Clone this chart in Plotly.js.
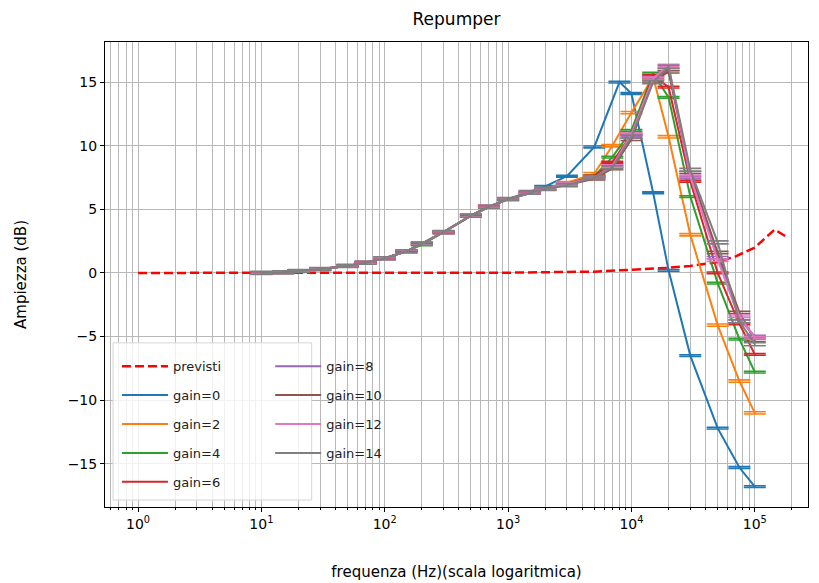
<!DOCTYPE html>
<html>
<head>
<meta charset="utf-8">
<script src="https://cdn.plot.ly/plotly-3.0.1.min.js"></script>
<style>html,body{margin:0;padding:0;background:#fff;}#chart{width:819px;height:583px;}</style>
</head>
<body>
<div id="chart"></div>
<script>
// Frequencies (Hz)
var freqPrev = [1, 10, 100, 1000, 5000, 10000, 20000, 30000, 50000, 70000, 100000, 145000, 180000];
var valPrev  = [0, 0, 0, 0.02, 0.1, 0.25, 0.4, 0.55, 0.85, 1.3, 2.0, 3.4, 2.85];

var freqG0 = [10, 15, 20, 30, 50, 70, 100, 150, 200, 300, 500, 700, 1000, 1500, 2000, 3000, 5000, 8000, 10000, 15000, 20000, 30000, 50000, 75000, 100000];
var freqG  = [10, 15, 20, 30, 50, 70, 100, 150, 200, 300, 500, 700, 1000, 1500, 2000, 3000, 5000, 7000, 10000, 15000, 20000, 30000, 50000, 75000, 100000];

var gain0  = [0.0, 0.05, 0.15, 0.3, 0.55, 0.8, 1.15, 1.7, 2.3, 3.2, 4.5, 5.2, 5.8, 6.4, 6.8, 7.6, 9.9, 15.0, 14.1, 6.3, 0.2, -6.5, -12.2, -15.3, -16.8];
var gain2  = [0.0, 0.05, 0.15, 0.3, 0.55, 0.8, 1.15, 1.7, 2.3, 3.2, 4.5, 5.2, 5.8, 6.3, 6.6, 7.1, 7.8, 10.0, 12.6, 15.4, 10.7, 3.0, -4.1, -8.5, -11.0];
var gain4  = [0.0, 0.05, 0.15, 0.3, 0.55, 0.8, 1.15, 1.7, 2.2, 3.2, 4.5, 5.2, 5.8, 6.3, 6.6, 7.0, 7.6, 9.1, 11.2, 15.7, 13.8, 6.0, -0.8, -5.2, -7.8];
var gain6  = [0.0, 0.05, 0.15, 0.3, 0.55, 0.8, 1.15, 1.7, 2.3, 3.2, 4.5, 5.2, 5.8, 6.3, 6.6, 7.0, 7.6, 8.7, 10.9, 15.5, 14.6, 7.2, 0.0, -4.0, -6.4];
var gain8  = [0.0, 0.05, 0.15, 0.3, 0.55, 0.8, 1.15, 1.7, 2.3, 3.2, 4.5, 5.2, 5.8, 6.3, 6.6, 7.0, 7.5, 8.4, 10.8, 15.3, 16.0, 7.5, 1.2, -3.6, -5.0];
var gain10 = [0.0, 0.05, 0.15, 0.3, 0.55, 0.8, 1.15, 1.7, 2.3, 3.2, 4.5, 5.2, 5.8, 6.3, 6.6, 6.9, 7.4, 8.2, 10.5, 15.1, 15.8, 7.9, 1.6, -3.1, -5.3];
var gain12 = [0.0, 0.05, 0.15, 0.3, 0.55, 0.8, 1.15, 1.7, 2.3, 3.2, 4.5, 5.2, 5.8, 6.3, 6.6, 7.0, 7.5, 8.4, 10.9, 15.3, 16.3, 7.6, 1.0, -3.4, -5.1];
var gain14 = [0.0, 0.05, 0.15, 0.3, 0.55, 0.8, 1.15, 1.7, 2.3, 3.2, 4.5, 5.2, 5.8, 6.3, 6.6, 6.9, 7.5, 8.3, 10.7, 15.0, 16.2, 8.1, 2.4, -3.8, -5.6];

// error (dB), one per series
var errs = [0.07, 0.09, 0.07, 0.07, 0.09, 0.09, 0.09, 0.12];

var seriesNames = ['gain=0', 'gain=2', 'gain=4', 'gain=6', 'gain=8', 'gain=10', 'gain=12', 'gain=14'];
var seriesVals = [gain0, gain2, gain4, gain6, gain8, gain10, gain12, gain14];
var seriesFreq = [freqG0, freqG, freqG, freqG, freqG, freqG, freqG, freqG];
var colors = ['#1f77b4', '#ff7f0e', '#2ca02c', '#d62728', '#9467bd', '#8c564b', '#e377c2', '#7f7f7f'];

var xTickVals = [1, 10, 100, 1000, 10000, 100000];
var xTickText = ['10<sup>0</sup>', '10<sup>1</sup>', '10<sup>2</sup>', '10<sup>3</sup>', '10<sup>4</sup>', '10<sup>5</sup>'];
var yTickVals = [-15, -10, -5, 0, 5, 10, 15];

var minorVals = [];
for (var d = 0; d <= 5; d++) {
  for (var m = 2; m <= 9; m++) minorVals.push(m * Math.pow(10, d - 1));
}
for (var m2 = 2; m2 <= 9; m2++) minorVals.push(m2 * 1e5);

var traces = [{
  x: freqPrev, y: valPrev, name: 'previsti', mode: 'lines',
  line: {color: '#ff0000', width: 2.5, dash: '9px,4px'},
  legend: 'legend', legendgroup: 'p', legendrank: 1
}];
for (var i = 0; i < seriesNames.length; i++) {
  traces.push({
    x: seriesFreq[i], y: seriesVals[i], name: seriesNames[i], mode: 'lines',
    line: {color: colors[i], width: 2},
    error_y: {type: 'constant', value: errs[i], width: 11, thickness: 1.6, color: colors[i]},
    legend: i < 4 ? 'legend' : 'legend2',
    legendgroup: 'g' + i, legendrank: i + 2
  });
}

var legendCommon = {
  font: {family: 'DejaVu Sans', size: 13, color: '#222'},
  bgcolor: 'rgba(0,0,0,0)', borderwidth: 0,
  xanchor: 'left', yanchor: 'top', yref: 'paper', xref: 'paper',
  tracegroupgap: 9, itemwidth: 46, traceorder: 'grouped'
};

var layout = {
  width: 819, height: 583,
  margin: {l: 105, r: 11, t: 42, b: 76},
  paper_bgcolor: '#fff', plot_bgcolor: '#fff',
  font: {family: 'DejaVu Sans', color: '#000'},
  title: {text: 'Repumper', x: 0.5, xref: 'paper', xanchor: 'center', y: 0.978, yanchor: 'top', font: {size: 17, color: '#000'}},
  showlegend: true,
  xaxis: {
    type: 'log', range: [Math.log10(0.54), Math.log10(270000)],
    tickmode: 'array', tickvals: xTickVals, ticktext: xTickText,
    tickfont: {size: 14}, ticks: 'outside', ticklen: 4, tickcolor: '#000',
    showgrid: true, gridcolor: '#b8b8b8', gridwidth: 1,
    showline: true, linecolor: '#000', linewidth: 1, mirror: true, zeroline: false,
    minor: {tickmode: 'array', tickvals: minorVals, showgrid: true, gridcolor: '#b8b8b8', gridwidth: 1, ticks: 'outside', ticklen: 2, tickcolor: '#000'},
    title: {text: 'frequenza (Hz)(scala logaritmica)', font: {size: 15}, standoff: 35}
  },
  yaxis: {
    range: [-18.4, 18.15], tickmode: 'array', tickvals: yTickVals,
    tickfont: {size: 14}, ticks: 'outside', ticklen: 4, tickcolor: '#000',
    showgrid: true, gridcolor: '#b8b8b8', gridwidth: 1,
    showline: true, linecolor: '#000', linewidth: 1, mirror: true, zeroline: false,
    title: {text: 'Ampiezza (dB)', font: {size: 15}, standoff: 37}
  },
  legend: Object.assign({}, legendCommon, {x: 0.017, y: 0.335}),
  legend2: Object.assign({}, legendCommon, {x: 0.235, y: 0.335}),
  shapes: [{
    type: 'rect', xref: 'paper', yref: 'paper', layer: 'above',
    x0: 0.0114, x1: 0.294, y0: 0.015, y1: 0.353,
    fillcolor: 'rgba(255,255,255,0.8)', line: {color: '#d5d5d5', width: 1}
  }]
};

Plotly.newPlot('chart', traces, layout, {displayModeBar: false, staticPlot: true});
</script>
</body>
</html>
